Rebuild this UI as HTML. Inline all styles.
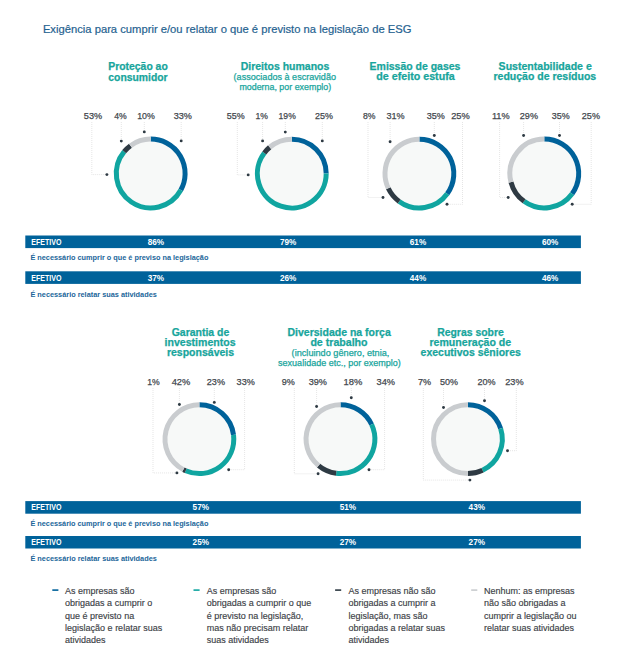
<!DOCTYPE html><html><head><meta charset="utf-8"><title>ESG</title><style>html,body{margin:0;padding:0;background:#fff;}svg{display:block;}</style></head><body>
<svg width="625" height="669" viewBox="0 0 625 669" font-family="'Liberation Sans', Arial, sans-serif">
<rect width="625" height="669" fill="#fff"/>
<text x="42.9" y="32.5" font-size="11.5" fill="#1f6290" stroke="#1f6290" stroke-width="0.2" textLength="368.6" lengthAdjust="spacingAndGlyphs">Exigência para cumprir e/ou relatar o que é previsto na legislação de ESG</text>
<text x="138.0" y="69.6" text-anchor="middle" font-size="10.5" font-weight="700" fill="#17a59c" stroke="#17a59c" stroke-width="0.25" textLength="59.5" lengthAdjust="spacingAndGlyphs">Proteção ao</text>
<text x="138.0" y="80.9" text-anchor="middle" font-size="10.5" font-weight="700" fill="#17a59c" stroke="#17a59c" stroke-width="0.25" textLength="59.3" lengthAdjust="spacingAndGlyphs">consumidor</text>
<text x="285.0" y="69.8" text-anchor="middle" font-size="10.5" font-weight="700" fill="#17a59c" stroke="#17a59c" stroke-width="0.25" textLength="88.6" lengthAdjust="spacingAndGlyphs">Direitos humanos</text>
<text x="284.8" y="80.0" text-anchor="middle" font-size="9.0" font-weight="400" fill="#17a59c" stroke="#17a59c" stroke-width="0.25" textLength="102.4" lengthAdjust="spacingAndGlyphs">(associados à escravidão</text>
<text x="285.3" y="90.1" text-anchor="middle" font-size="9.0" font-weight="400" fill="#17a59c" stroke="#17a59c" stroke-width="0.25" textLength="91.8" lengthAdjust="spacingAndGlyphs">moderna, por exemplo)</text>
<text x="415.0" y="69.8" text-anchor="middle" font-size="10.5" font-weight="700" fill="#17a59c" stroke="#17a59c" stroke-width="0.25" textLength="90.8" lengthAdjust="spacingAndGlyphs">Emissão de gases</text>
<text x="415.5" y="79.6" text-anchor="middle" font-size="10.5" font-weight="700" fill="#17a59c" stroke="#17a59c" stroke-width="0.25" textLength="78.4" lengthAdjust="spacingAndGlyphs">de efeito estufa</text>
<text x="545.2" y="69.8" text-anchor="middle" font-size="10.5" font-weight="700" fill="#17a59c" stroke="#17a59c" stroke-width="0.25" textLength="93.2" lengthAdjust="spacingAndGlyphs">Sustentabilidade e</text>
<text x="544.85" y="79.6" text-anchor="middle" font-size="10.5" font-weight="700" fill="#17a59c" stroke="#17a59c" stroke-width="0.25" textLength="102.7" lengthAdjust="spacingAndGlyphs">redução de resíduos</text>
<text x="200.5" y="335.7" text-anchor="middle" font-size="10.5" font-weight="700" fill="#17a59c" stroke="#17a59c" stroke-width="0.25" textLength="57.6" lengthAdjust="spacingAndGlyphs">Garantia de</text>
<text x="200.1" y="345.7" text-anchor="middle" font-size="10.5" font-weight="700" fill="#17a59c" stroke="#17a59c" stroke-width="0.25" textLength="71.0" lengthAdjust="spacingAndGlyphs">investimentos</text>
<text x="200.5" y="355.7" text-anchor="middle" font-size="10.5" font-weight="700" fill="#17a59c" stroke="#17a59c" stroke-width="0.25" textLength="67.2" lengthAdjust="spacingAndGlyphs">responsáveis</text>
<text x="339.15" y="336.2" text-anchor="middle" font-size="10.5" font-weight="700" fill="#17a59c" stroke="#17a59c" stroke-width="0.25" textLength="103.3" lengthAdjust="spacingAndGlyphs">Diversidade na força</text>
<text x="339.0" y="345.6" text-anchor="middle" font-size="10.5" font-weight="700" fill="#17a59c" stroke="#17a59c" stroke-width="0.25" textLength="57.2" lengthAdjust="spacingAndGlyphs">de trabalho</text>
<text x="340.5" y="355.6" text-anchor="middle" font-size="9.0" font-weight="400" fill="#17a59c" stroke="#17a59c" stroke-width="0.25" textLength="97.8" lengthAdjust="spacingAndGlyphs">(incluindo gênero, etnia,</text>
<text x="339.45" y="366.0" text-anchor="middle" font-size="9.0" font-weight="400" fill="#17a59c" stroke="#17a59c" stroke-width="0.25" textLength="122.7" lengthAdjust="spacingAndGlyphs">sexualidade etc., por exemplo)</text>
<text x="470.5" y="336.4" text-anchor="middle" font-size="10.5" font-weight="700" fill="#17a59c" stroke="#17a59c" stroke-width="0.25" textLength="66.6" lengthAdjust="spacingAndGlyphs">Regras sobre</text>
<text x="470.3" y="346.2" text-anchor="middle" font-size="10.5" font-weight="700" fill="#17a59c" stroke="#17a59c" stroke-width="0.25" textLength="81.6" lengthAdjust="spacingAndGlyphs">remuneração de</text>
<text x="470.7" y="355.6" text-anchor="middle" font-size="10.5" font-weight="700" fill="#17a59c" stroke="#17a59c" stroke-width="0.25" textLength="100.2" lengthAdjust="spacingAndGlyphs">executivos sêniores</text>
<path d="M91.8 122V174.6H106.9" fill="none" stroke="#d4d4d4" stroke-width="0.6" stroke-dasharray="1 1"/>
<circle cx="106.9" cy="174.6" r="1.45" fill="#2e3a43"/>
<line x1="121.3" y1="122" x2="121.3" y2="141.1" stroke="#d4d4d4" stroke-width="0.6" stroke-dasharray="1 1"/>
<circle cx="121.3" cy="141.1" r="1.45" fill="#2e3a43"/>
<line x1="144.3" y1="122" x2="144.3" y2="131.9" stroke="#d4d4d4" stroke-width="0.6" stroke-dasharray="1 1"/>
<circle cx="144.3" cy="131.9" r="1.45" fill="#2e3a43"/>
<line x1="181.2" y1="122" x2="181.2" y2="140.9" stroke="#d4d4d4" stroke-width="0.6" stroke-dasharray="1 1"/>
<circle cx="181.2" cy="140.9" r="1.45" fill="#2e3a43"/>
<path d="M237.3 122V174.9H248.2" fill="none" stroke="#d4d4d4" stroke-width="0.6" stroke-dasharray="1 1"/>
<circle cx="248.2" cy="174.9" r="1.45" fill="#2e3a43"/>
<line x1="262.6" y1="122" x2="262.6" y2="140.9" stroke="#d4d4d4" stroke-width="0.6" stroke-dasharray="1 1"/>
<circle cx="262.6" cy="140.9" r="1.45" fill="#2e3a43"/>
<line x1="285.3" y1="122" x2="285.3" y2="132.1" stroke="#d4d4d4" stroke-width="0.6" stroke-dasharray="1 1"/>
<circle cx="285.3" cy="132.1" r="1.45" fill="#2e3a43"/>
<line x1="322.3" y1="122" x2="322.3" y2="140.9" stroke="#d4d4d4" stroke-width="0.6" stroke-dasharray="1 1"/>
<circle cx="322.3" cy="140.9" r="1.45" fill="#2e3a43"/>
<path d="M368 122V197.5H383" fill="none" stroke="#d4d4d4" stroke-width="0.6" stroke-dasharray="1 1"/>
<circle cx="383" cy="197.5" r="1.45" fill="#2e3a43"/>
<line x1="390.1" y1="122" x2="390.1" y2="141.7" stroke="#d4d4d4" stroke-width="0.6" stroke-dasharray="1 1"/>
<circle cx="390.1" cy="141.7" r="1.45" fill="#2e3a43"/>
<line x1="434.3" y1="122" x2="434.3" y2="135.5" stroke="#d4d4d4" stroke-width="0.6" stroke-dasharray="1 1"/>
<circle cx="434.3" cy="135.5" r="1.45" fill="#2e3a43"/>
<path d="M462.5 122V204.3H447" fill="none" stroke="#d4d4d4" stroke-width="0.6" stroke-dasharray="1 1"/>
<circle cx="447" cy="204.3" r="1.45" fill="#2e3a43"/>
<path d="M499.6 122V197.5H508.2" fill="none" stroke="#d4d4d4" stroke-width="0.6" stroke-dasharray="1 1"/>
<circle cx="508.2" cy="197.5" r="1.45" fill="#2e3a43"/>
<line x1="523.6" y1="122" x2="523.6" y2="135.5" stroke="#d4d4d4" stroke-width="0.6" stroke-dasharray="1 1"/>
<circle cx="523.6" cy="135.5" r="1.45" fill="#2e3a43"/>
<line x1="559.5" y1="122" x2="559.5" y2="135.5" stroke="#d4d4d4" stroke-width="0.6" stroke-dasharray="1 1"/>
<circle cx="559.5" cy="135.5" r="1.45" fill="#2e3a43"/>
<path d="M591.2 122V204.3H572.2" fill="none" stroke="#d4d4d4" stroke-width="0.6" stroke-dasharray="1 1"/>
<circle cx="572.2" cy="204.3" r="1.45" fill="#2e3a43"/>
<path d="M153 388V472.9H176.9" fill="none" stroke="#d4d4d4" stroke-width="0.6" stroke-dasharray="1 1"/>
<circle cx="176.9" cy="472.9" r="1.45" fill="#2e3a43"/>
<line x1="179.4" y1="388" x2="179.4" y2="404.5" stroke="#d4d4d4" stroke-width="0.6" stroke-dasharray="1 1"/>
<circle cx="179.4" cy="404.5" r="1.45" fill="#2e3a43"/>
<line x1="214.3" y1="388" x2="214.3" y2="402.4" stroke="#d4d4d4" stroke-width="0.6" stroke-dasharray="1 1"/>
<circle cx="214.3" cy="402.4" r="1.45" fill="#2e3a43"/>
<path d="M244.6 388V469.7H228.7" fill="none" stroke="#d4d4d4" stroke-width="0.6" stroke-dasharray="1 1"/>
<circle cx="228.7" cy="469.7" r="1.45" fill="#2e3a43"/>
<path d="M294.3 388V473.8H318.1" fill="none" stroke="#d4d4d4" stroke-width="0.6" stroke-dasharray="1 1"/>
<circle cx="318.1" cy="473.8" r="1.45" fill="#2e3a43"/>
<line x1="316.6" y1="388" x2="316.6" y2="406.5" stroke="#d4d4d4" stroke-width="0.6" stroke-dasharray="1 1"/>
<circle cx="316.6" cy="406.5" r="1.45" fill="#2e3a43"/>
<line x1="351.3" y1="388" x2="351.3" y2="397.8" stroke="#d4d4d4" stroke-width="0.6" stroke-dasharray="1 1"/>
<circle cx="351.3" cy="397.8" r="1.45" fill="#2e3a43"/>
<path d="M384.6 388V469.7H369" fill="none" stroke="#d4d4d4" stroke-width="0.6" stroke-dasharray="1 1"/>
<circle cx="369" cy="469.7" r="1.45" fill="#2e3a43"/>
<path d="M423.3 388V480.1H469.9" fill="none" stroke="#d4d4d4" stroke-width="0.6" stroke-dasharray="1 1"/>
<circle cx="469.9" cy="480.1" r="1.45" fill="#2e3a43"/>
<line x1="443.5" y1="388" x2="443.5" y2="407.5" stroke="#d4d4d4" stroke-width="0.6" stroke-dasharray="1 1"/>
<circle cx="443.5" cy="407.5" r="1.45" fill="#2e3a43"/>
<line x1="484.5" y1="388" x2="484.5" y2="400.8" stroke="#d4d4d4" stroke-width="0.6" stroke-dasharray="1 1"/>
<circle cx="484.5" cy="400.8" r="1.45" fill="#2e3a43"/>
<path d="M516.3 388V450.7H507.5" fill="none" stroke="#d4d4d4" stroke-width="0.6" stroke-dasharray="1 1"/>
<circle cx="507.5" cy="450.7" r="1.45" fill="#2e3a43"/>
<text x="83.8" y="119.2" font-size="9.5" fill="#43484e" stroke="#43484e" stroke-width="0.25" textLength="18.3" lengthAdjust="spacingAndGlyphs">53%</text>
<text x="114.2" y="119.2" font-size="9.5" fill="#43484e" stroke="#43484e" stroke-width="0.25" textLength="12.5" lengthAdjust="spacingAndGlyphs">4%</text>
<text x="137.2" y="119.2" font-size="9.5" fill="#43484e" stroke="#43484e" stroke-width="0.25" textLength="17.7" lengthAdjust="spacingAndGlyphs">10%</text>
<text x="173.7" y="119.2" font-size="9.5" fill="#43484e" stroke="#43484e" stroke-width="0.25" textLength="18.2" lengthAdjust="spacingAndGlyphs">33%</text>
<text x="226.7" y="119.2" font-size="9.5" fill="#43484e" stroke="#43484e" stroke-width="0.25" textLength="17.9" lengthAdjust="spacingAndGlyphs">55%</text>
<text x="255.5" y="119.2" font-size="9.5" fill="#43484e" stroke="#43484e" stroke-width="0.25" textLength="12.5" lengthAdjust="spacingAndGlyphs">1%</text>
<text x="278.6" y="119.2" font-size="9.5" fill="#43484e" stroke="#43484e" stroke-width="0.25" textLength="17.2" lengthAdjust="spacingAndGlyphs">19%</text>
<text x="315" y="119.2" font-size="9.5" fill="#43484e" stroke="#43484e" stroke-width="0.25" textLength="17.9" lengthAdjust="spacingAndGlyphs">25%</text>
<text x="362.9" y="119.2" font-size="9.5" fill="#43484e" stroke="#43484e" stroke-width="0.25" textLength="12.5" lengthAdjust="spacingAndGlyphs">8%</text>
<text x="386.5" y="119.2" font-size="9.5" fill="#43484e" stroke="#43484e" stroke-width="0.25" textLength="18.2" lengthAdjust="spacingAndGlyphs">31%</text>
<text x="426.8" y="119.2" font-size="9.5" fill="#43484e" stroke="#43484e" stroke-width="0.25" textLength="18.1" lengthAdjust="spacingAndGlyphs">35%</text>
<text x="451.2" y="119.2" font-size="9.5" fill="#43484e" stroke="#43484e" stroke-width="0.25" textLength="18.6" lengthAdjust="spacingAndGlyphs">25%</text>
<text x="491.9" y="119.2" font-size="9.5" fill="#43484e" stroke="#43484e" stroke-width="0.25" textLength="17.7" lengthAdjust="spacingAndGlyphs">11%</text>
<text x="519.8" y="119.2" font-size="9.5" fill="#43484e" stroke="#43484e" stroke-width="0.25" textLength="18.2" lengthAdjust="spacingAndGlyphs">29%</text>
<text x="551.8" y="119.2" font-size="9.5" fill="#43484e" stroke="#43484e" stroke-width="0.25" textLength="17.9" lengthAdjust="spacingAndGlyphs">35%</text>
<text x="581.8" y="119.2" font-size="9.5" fill="#43484e" stroke="#43484e" stroke-width="0.25" textLength="18.2" lengthAdjust="spacingAndGlyphs">25%</text>
<text x="147.3" y="384.7" font-size="9.5" fill="#43484e" stroke="#43484e" stroke-width="0.25" textLength="12.5" lengthAdjust="spacingAndGlyphs">1%</text>
<text x="171.7" y="384.7" font-size="9.5" fill="#43484e" stroke="#43484e" stroke-width="0.25" textLength="18.6" lengthAdjust="spacingAndGlyphs">42%</text>
<text x="206.8" y="384.7" font-size="9.5" fill="#43484e" stroke="#43484e" stroke-width="0.25" textLength="18.2" lengthAdjust="spacingAndGlyphs">23%</text>
<text x="236.6" y="384.7" font-size="9.5" fill="#43484e" stroke="#43484e" stroke-width="0.25" textLength="18.2" lengthAdjust="spacingAndGlyphs">33%</text>
<text x="281.7" y="384.7" font-size="9.5" fill="#43484e" stroke="#43484e" stroke-width="0.25" textLength="13.1" lengthAdjust="spacingAndGlyphs">9%</text>
<text x="308.7" y="384.7" font-size="9.5" fill="#43484e" stroke="#43484e" stroke-width="0.25" textLength="18.3" lengthAdjust="spacingAndGlyphs">39%</text>
<text x="343.6" y="384.7" font-size="9.5" fill="#43484e" stroke="#43484e" stroke-width="0.25" textLength="18.8" lengthAdjust="spacingAndGlyphs">18%</text>
<text x="376.5" y="384.7" font-size="9.5" fill="#43484e" stroke="#43484e" stroke-width="0.25" textLength="18.5" lengthAdjust="spacingAndGlyphs">34%</text>
<text x="417.9" y="384.7" font-size="9.5" fill="#43484e" stroke="#43484e" stroke-width="0.25" textLength="13.1" lengthAdjust="spacingAndGlyphs">7%</text>
<text x="440" y="384.7" font-size="9.5" fill="#43484e" stroke="#43484e" stroke-width="0.25" textLength="18.0" lengthAdjust="spacingAndGlyphs">50%</text>
<text x="477.4" y="384.7" font-size="9.5" fill="#43484e" stroke="#43484e" stroke-width="0.25" textLength="18.1" lengthAdjust="spacingAndGlyphs">20%</text>
<text x="505.2" y="384.7" font-size="9.5" fill="#43484e" stroke="#43484e" stroke-width="0.25" textLength="18.4" lengthAdjust="spacingAndGlyphs">23%</text>
<circle cx="150.7" cy="173.5" r="32.10" fill="#f7f9f8"/>
<path d="M150.70 139.10A34.40 34.40 0 0 1 180.84 190.07" fill="none" stroke="#00629a" stroke-width="5.0"/>
<path d="M180.84 190.07A34.40 34.40 0 1 1 124.19 151.57" fill="none" stroke="#10a5a0" stroke-width="5.0"/>
<path d="M124.19 151.57A34.40 34.40 0 0 1 130.48 145.67" fill="none" stroke="#2e3a43" stroke-width="5.0"/>
<path d="M130.48 145.67A34.40 34.40 0 0 1 150.70 139.10" fill="none" stroke="#c9cccf" stroke-width="5.0"/>
<circle cx="291.8" cy="173.6" r="32.10" fill="#f7f9f8"/>
<path d="M291.80 139.20A34.40 34.40 0 0 1 326.20 173.60" fill="none" stroke="#00629a" stroke-width="5.0"/>
<path d="M326.20 173.60A34.40 34.40 0 1 1 264.33 152.90" fill="none" stroke="#10a5a0" stroke-width="5.0"/>
<path d="M264.33 152.90A34.40 34.40 0 0 1 269.69 147.25" fill="none" stroke="#2e3a43" stroke-width="5.0"/>
<path d="M269.69 147.25A34.40 34.40 0 0 1 291.80 139.20" fill="none" stroke="#c9cccf" stroke-width="5.0"/>
<circle cx="419.4" cy="173.6" r="32.10" fill="#f7f9f8"/>
<path d="M419.40 139.20A34.40 34.40 0 0 1 447.23 193.82" fill="none" stroke="#00629a" stroke-width="5.0"/>
<path d="M447.23 193.82A34.40 34.40 0 0 1 399.18 201.43" fill="none" stroke="#10a5a0" stroke-width="5.0"/>
<path d="M399.18 201.43A34.40 34.40 0 0 1 388.27 188.25" fill="none" stroke="#2e3a43" stroke-width="5.0"/>
<path d="M388.27 188.25A34.40 34.40 0 0 1 419.40 139.20" fill="none" stroke="#c9cccf" stroke-width="5.0"/>
<circle cx="544.3" cy="173.5" r="32.10" fill="#f7f9f8"/>
<path d="M544.30 139.10A34.40 34.40 0 0 1 572.13 193.72" fill="none" stroke="#00629a" stroke-width="5.0"/>
<path d="M572.13 193.72A34.40 34.40 0 0 1 524.08 201.33" fill="none" stroke="#10a5a0" stroke-width="5.0"/>
<path d="M524.08 201.33A34.40 34.40 0 0 1 510.98 182.05" fill="none" stroke="#2e3a43" stroke-width="5.0"/>
<path d="M510.98 182.05A34.40 34.40 0 0 1 544.30 139.10" fill="none" stroke="#c9cccf" stroke-width="5.0"/>
<circle cx="199.4" cy="439.2" r="32.10" fill="#f7f9f8"/>
<path d="M199.40 404.80A34.40 34.40 0 0 1 233.53 434.89" fill="none" stroke="#00629a" stroke-width="5.0"/>
<path d="M233.53 434.89A34.40 34.40 0 0 1 185.68 470.75" fill="none" stroke="#10a5a0" stroke-width="5.0"/>
<path d="M185.68 470.75A34.40 34.40 0 0 1 183.36 469.63" fill="none" stroke="#2e3a43" stroke-width="5.0"/>
<path d="M183.36 469.63A34.40 34.40 0 0 1 199.40 404.80" fill="none" stroke="#c9cccf" stroke-width="5.0"/>
<circle cx="340.5" cy="439.1" r="32.10" fill="#f7f9f8"/>
<path d="M340.50 404.70A34.40 34.40 0 0 1 371.63 424.45" fill="none" stroke="#00629a" stroke-width="5.0"/>
<path d="M371.63 424.45A34.40 34.40 0 0 1 336.19 473.23" fill="none" stroke="#10a5a0" stroke-width="5.0"/>
<path d="M336.19 473.23A34.40 34.40 0 0 1 318.57 465.61" fill="none" stroke="#2e3a43" stroke-width="5.0"/>
<path d="M318.57 465.61A34.40 34.40 0 0 1 340.50 404.70" fill="none" stroke="#c9cccf" stroke-width="5.0"/>
<circle cx="467.9" cy="439.1" r="32.10" fill="#f7f9f8"/>
<path d="M467.90 404.70A34.40 34.40 0 0 1 500.62 428.47" fill="none" stroke="#00629a" stroke-width="5.0"/>
<path d="M500.62 428.47A34.40 34.40 0 0 1 482.55 470.23" fill="none" stroke="#10a5a0" stroke-width="5.0"/>
<path d="M482.55 470.23A34.40 34.40 0 0 1 467.90 473.50" fill="none" stroke="#2e3a43" stroke-width="5.0"/>
<path d="M467.90 473.50A34.40 34.40 0 0 1 467.90 404.70" fill="none" stroke="#c9cccf" stroke-width="5.0"/>
<rect x="25.3" y="235.5" width="555.6" height="12.6" fill="#00629a"/>
<text x="31.3" y="245.0" font-size="8.8" font-weight="700" fill="#fff" textLength="30.2" lengthAdjust="spacingAndGlyphs">EFETIVO</text>
<text x="155.9" y="245.0" text-anchor="middle" font-size="9" font-weight="700" fill="#fff" textLength="16.4" lengthAdjust="spacingAndGlyphs">86%</text>
<text x="288.1" y="245.0" text-anchor="middle" font-size="9" font-weight="700" fill="#fff" textLength="16.4" lengthAdjust="spacingAndGlyphs">79%</text>
<text x="418.0" y="245.0" text-anchor="middle" font-size="9" font-weight="700" fill="#fff" textLength="16.4" lengthAdjust="spacingAndGlyphs">61%</text>
<text x="550.2" y="245.0" text-anchor="middle" font-size="9" font-weight="700" fill="#fff" textLength="16.4" lengthAdjust="spacingAndGlyphs">60%</text>
<text x="30.4" y="259.8" font-size="8" font-weight="700" fill="#22669a" textLength="178.0" lengthAdjust="spacingAndGlyphs">É necessário cumprir o que é previso na legislação</text>
<rect x="25.3" y="271.3" width="555.6" height="12.6" fill="#00629a"/>
<text x="31.3" y="280.8" font-size="8.8" font-weight="700" fill="#fff" textLength="30.2" lengthAdjust="spacingAndGlyphs">EFETIVO</text>
<text x="155.9" y="280.8" text-anchor="middle" font-size="9" font-weight="700" fill="#fff" textLength="16.4" lengthAdjust="spacingAndGlyphs">37%</text>
<text x="288.1" y="280.8" text-anchor="middle" font-size="9" font-weight="700" fill="#fff" textLength="16.4" lengthAdjust="spacingAndGlyphs">26%</text>
<text x="418.0" y="280.8" text-anchor="middle" font-size="9" font-weight="700" fill="#fff" textLength="16.4" lengthAdjust="spacingAndGlyphs">44%</text>
<text x="550.2" y="280.8" text-anchor="middle" font-size="9" font-weight="700" fill="#fff" textLength="16.4" lengthAdjust="spacingAndGlyphs">46%</text>
<text x="30.4" y="297.1" font-size="8" font-weight="700" fill="#22669a" textLength="126.4" lengthAdjust="spacingAndGlyphs">É necessário relatar suas atividades</text>
<rect x="25.3" y="501.1" width="555.6" height="12.6" fill="#00629a"/>
<text x="31.3" y="510.4" font-size="8.8" font-weight="700" fill="#fff" textLength="30.2" lengthAdjust="spacingAndGlyphs">EFETIVO</text>
<text x="200.8" y="510.4" text-anchor="middle" font-size="9" font-weight="700" fill="#fff" textLength="16.4" lengthAdjust="spacingAndGlyphs">57%</text>
<text x="347.9" y="510.4" text-anchor="middle" font-size="9" font-weight="700" fill="#fff" textLength="16.4" lengthAdjust="spacingAndGlyphs">51%</text>
<text x="476.8" y="510.4" text-anchor="middle" font-size="9" font-weight="700" fill="#fff" textLength="16.4" lengthAdjust="spacingAndGlyphs">43%</text>
<text x="30.4" y="526.1" font-size="8" font-weight="700" fill="#22669a" textLength="178.0" lengthAdjust="spacingAndGlyphs">É necessário cumprir o que é previso na legislação</text>
<rect x="25.3" y="536.0" width="555.6" height="12.5" fill="#00629a"/>
<text x="31.3" y="545.1" font-size="8.8" font-weight="700" fill="#fff" textLength="30.2" lengthAdjust="spacingAndGlyphs">EFETIVO</text>
<text x="200.8" y="545.1" text-anchor="middle" font-size="9" font-weight="700" fill="#fff" textLength="16.4" lengthAdjust="spacingAndGlyphs">25%</text>
<text x="347.9" y="545.1" text-anchor="middle" font-size="9" font-weight="700" fill="#fff" textLength="16.4" lengthAdjust="spacingAndGlyphs">27%</text>
<text x="476.8" y="545.1" text-anchor="middle" font-size="9" font-weight="700" fill="#fff" textLength="16.4" lengthAdjust="spacingAndGlyphs">27%</text>
<text x="30.4" y="561.4" font-size="8" font-weight="700" fill="#22669a" textLength="126.4" lengthAdjust="spacingAndGlyphs">É necessário relatar suas atividades</text>
<rect x="52.3" y="589.3" width="6.1" height="1.6" fill="#00629a"/>
<text x="65.1" y="594.1" font-size="9" fill="#3c4146" stroke="#3c4146" stroke-width="0.15">As empresas são</text>
<text x="65.1" y="606.4" font-size="9" fill="#3c4146" stroke="#3c4146" stroke-width="0.15">obrigadas a cumprir o</text>
<text x="65.1" y="618.7" font-size="9" fill="#3c4146" stroke="#3c4146" stroke-width="0.15">que é previsto na</text>
<text x="65.1" y="631.0" font-size="9" fill="#3c4146" stroke="#3c4146" stroke-width="0.15">legislação e relatar suas</text>
<text x="65.1" y="643.3" font-size="9" fill="#3c4146" stroke="#3c4146" stroke-width="0.15">atividades</text>
<rect x="193.5" y="589.3" width="6.1" height="1.6" fill="#10a5a0"/>
<text x="206.7" y="594.1" font-size="9" fill="#3c4146" stroke="#3c4146" stroke-width="0.15">As empresas são</text>
<text x="206.7" y="606.4" font-size="9" fill="#3c4146" stroke="#3c4146" stroke-width="0.15">obrigadas a cumprir o que</text>
<text x="206.7" y="618.7" font-size="9" fill="#3c4146" stroke="#3c4146" stroke-width="0.15">é previsto na legislação,</text>
<text x="206.7" y="631.0" font-size="9" fill="#3c4146" stroke="#3c4146" stroke-width="0.15">mas não precisam relatar</text>
<text x="206.7" y="643.3" font-size="9" fill="#3c4146" stroke="#3c4146" stroke-width="0.15">suas atividades</text>
<rect x="335.1" y="589.3" width="6.1" height="1.6" fill="#2e3a43"/>
<text x="348.5" y="594.1" font-size="9" fill="#3c4146" stroke="#3c4146" stroke-width="0.15">As empresas não são</text>
<text x="348.5" y="606.4" font-size="9" fill="#3c4146" stroke="#3c4146" stroke-width="0.15">obrigadas a cumprir a</text>
<text x="348.5" y="618.7" font-size="9" fill="#3c4146" stroke="#3c4146" stroke-width="0.15">legislação, mas são</text>
<text x="348.5" y="631.0" font-size="9" fill="#3c4146" stroke="#3c4146" stroke-width="0.15">obrigadas a relatar suas</text>
<text x="348.5" y="643.3" font-size="9" fill="#3c4146" stroke="#3c4146" stroke-width="0.15">atividades</text>
<rect x="471.2" y="589.3" width="6.1" height="1.6" fill="#c9cccf"/>
<text x="484.0" y="594.1" font-size="9" fill="#3c4146" stroke="#3c4146" stroke-width="0.15">Nenhum: as empresas</text>
<text x="484.0" y="606.4" font-size="9" fill="#3c4146" stroke="#3c4146" stroke-width="0.15">não são obrigadas a</text>
<text x="484.0" y="618.7" font-size="9" fill="#3c4146" stroke="#3c4146" stroke-width="0.15">cumprir a legislação ou</text>
<text x="484.0" y="631.0" font-size="9" fill="#3c4146" stroke="#3c4146" stroke-width="0.15">relatar suas atividades</text>
</svg></body></html>
